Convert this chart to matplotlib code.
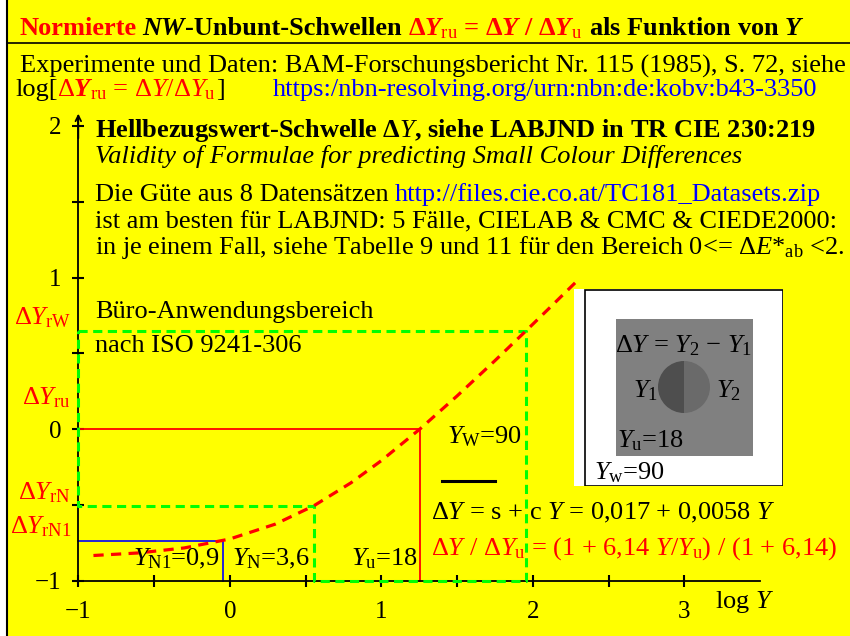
import matplotlib
matplotlib.use('Agg')
import matplotlib.pyplot as plt
from matplotlib.patches import Rectangle, Wedge
from matplotlib.lines import Line2D

W, H = 850, 636
SERIF = 'Liberation Serif'
FS = 19

plt.rcParams['font.family'] = SERIF
plt.rcParams['mathtext.fontset'] = 'custom'
plt.rcParams['mathtext.rm'] = SERIF
plt.rcParams['mathtext.it'] = SERIF + ':italic'
plt.rcParams['mathtext.bf'] = SERIF + ':bold'
plt.rcParams['mathtext.bfit'] = SERIF + ':italic:bold'

# threshold curve: log Y  ->  log(dY / dYu)
log_y = [-0.9, -0.6, -0.3, 0.0, 0.3, 0.556, 0.8, 1.0, 1.255, 1.5, 1.75, 1.954, 2.1, 2.3]
log_dy = [-0.835, -0.818, -0.785, -0.726, -0.628, -0.506, -0.355, -0.209,
          0.0, 0.218, 0.451, 0.647, 0.789, 0.985]

# marked luminances N1, N, u, W (Y = 0.9, 3.6, 18, 90)
mark_logY = [-0.046, 0.556, 1.255, 1.954]
mark_logdY = [-0.737, -0.506, 0.0, 0.647]

xticks = [-1, 0, 1, 2, 3]
xtick_labels = ['\u22121', '0', '1', '2', '3']
yticks = [-1, 0, 1, 2]
ytick_labels = ['\u22121', '0', '1', '2']

# pixel layout of the plot area
X0, Y0, UNIT = 78.3, 429.0, 151.5

fig = plt.figure(figsize=(8.5, 6.36), dpi=100, facecolor='white')

# yellow sheet with left frame line and title rule
fig.add_artist(Rectangle((7 / W, 0), 1 - 7 / W, 1, transform=fig.transFigure,
                         facecolor='#ffff00', edgecolor='none', zorder=-5))
fig.add_artist(Line2D([7 / W, 7 / W], [0, 1], color='black', lw=1.5))
fig.add_artist(Line2D([7 / W, 1], [1 - 43 / H, 1 - 43 / H], color='black', lw=1.2))

ax = fig.add_axes([0, 0, 1, 1])
ax.set_facecolor('none')
ax.set_xlim(-1 - X0 / UNIT, -1 + (W - X0) / UNIT)
ax.set_ylim(-(H - Y0) / UNIT, Y0 / UNIT)

lN1, lN, lu, lW = mark_logY
dN1, dN, du, dW = mark_logdY

# office range box (green dashed)
ax.plot([-1, lW, lW, lN, lN, -1, -1], [dW, dW, -1, -1, dN, dN, dW],
        color='#00ff00', lw=2.2, dashes=(3, 1.8), zorder=3)
# red and blue reference lines
ax.plot([-1, lu, lu], [du, du, -1], color='red', lw=1.3, zorder=2)
ax.plot([-1, lN1, lN1], [dN1, dN1, -1], color='blue', lw=1.2, zorder=2)
# threshold curve
ax.plot(log_y, log_dy, color='red', lw=2.3, dashes=(3.2, 2.3), zorder=4)

# axes through (-1, -1)
for side in ['top', 'right']:
    ax.spines[side].set_visible(False)
ax.spines['left'].set_position(('data', -1))
ax.spines['bottom'].set_position(('data', -1))
ax.spines['left'].set_bounds(-1, 2.05)
ax.spines['bottom'].set_bounds(-1, 3.5)
for side in ['left', 'bottom']:
    ax.spines[side].set_linewidth(1.3)
ax.annotate('', xy=(-1, 2.1), xytext=(-1, 1.9),
            arrowprops=dict(arrowstyle='->', lw=1.3, color='black'))

ax.set_xticks(xticks)
ax.set_xticklabels(xtick_labels)
ax.set_yticks(yticks)
ax.set_yticklabels(ytick_labels)
ax.set_xticks([-0.5, 0.5, 1.5, 2.5], minor=True)
ax.set_yticks([-0.5, 0.5, 1.5], minor=True)
ax.tick_params(which='both', direction='inout', length=8, width=1.5)
ax.tick_params(axis='x', labelsize=18, pad=11)
ax.tick_params(axis='y', labelsize=18, pad=8)


def put(x, y, s, color='black', size=FS, **kw):
    return fig.text(x / W, 1 - y / H, s, color=color, fontsize=size,
                    va='baseline', **kw)


def put_parts(x, y, parts, size=FS):
    rend = fig.canvas.get_renderer()
    for s, color, weight, style in parts:
        if s.startswith(' '):
            x += 0.25 * size * 100 / 72
            s = s.lstrip()
        t = put(x, y, s, color, size, fontweight=weight, fontstyle=style)
        x = t.get_window_extent(rend).x1


# title
put_parts(19, 35, [
    ('Normierte', 'red', 'bold', 'normal'),
    (' NW', 'black', 'bold', 'italic'),
    ('-Unbunt-Schwellen', 'black', 'bold', 'normal'),
    (r' Δ$\mathbfit{Y}_{\mathrm{ru}}$ = Δ$\mathbfit{Y}$ / Δ$\mathbfit{Y}_{\mathrm{u}}$',
     'red', 'bold', 'normal'),
    (r' als Funktion von $\mathbfit{Y}$', 'black', 'bold', 'normal'),
])

put(20, 73, 'Experimente und Daten: BAM-Forschungsbericht Nr. 115 (1985), S. 72, siehe')
put_parts(15, 96, [
    ('log[', 'black', 'normal', 'normal'),
    (r'Δ$\mathbfit{Y}_{\mathrm{ru}}$ = Δ$Y$/Δ$Y_{\mathrm{u}}$', 'red', 'normal', 'normal'),
    (']', 'black', 'normal', 'normal'),
])
put(273, 96, 'https:/nbn-resolving.org/urn:nbn:de:kobv:b43-3350', color='blue')

put(95, 137, r'Hellbezugswert-Schwelle Δ$\mathit{Y}$, siehe LABJND in TR CIE 230:219',
    fontweight='bold')
put(95, 163, 'Validity of Formulae for predicting Small Colour Differences', fontstyle='italic')
put_parts(95, 201, [
    ('Die Güte aus 8 Datensätzen', 'black', 'normal', 'normal'),
    (' http://files.cie.co.at/TC181_Datasets.zip', 'blue', 'normal', 'normal'),
])
put(95, 228, 'ist am besten für LABJND: 5 Fälle, CIELAB & CMC & CIEDE2000:')
put(95, 254, r'in je einem Fall, siehe Tabelle 9 und 11 für den Bereich 0<= Δ$E{*}_{\mathrm{ab}}$ <2.')

put(95, 318, 'Büro-Anwendungsbereich')
put(95, 352, 'nach ISO 9241-306')

# red labels left of the axis
put(71, 324, r'Δ$Y_{\mathrm{rW}}$', color='red', ha='right')
put(71, 404, r'Δ$Y_{\mathrm{ru}}$', color='red', ha='right')
put(71, 499, r'Δ$Y_{\mathrm{rN}}$', color='red', ha='right')
put(71, 533, r'Δ$Y_{\mathrm{rN1}}$', color='red', ha='right')

# marks along the bottom
put(220, 565, r'$Y_{\mathrm{N1}}$=0,9', ha='right')
put(232, 565, r'$Y_{\mathrm{N}}$=3,6')
put(418, 565, r'$Y_{\mathrm{u}}$=18', ha='right')
put(447, 443, r'$Y_{\mathrm{W}}$=90')
fig.add_artist(Line2D([442 / W, 495 / W], [1 - 481 / H, 1 - 481 / H], color='black', lw=2.2))
put(431, 519, r'Δ$Y$ = s + c $Y$ = 0,017 + 0,0058 $Y$')
put(431, 555, r'Δ$Y$ / Δ$Y_{\mathrm{u}}$ = (1 + 6,14 $Y$/$Y_{\mathrm{u}}$) / (1 + 6,14)', color='red')
put(715, 608, r'log $Y$')

# inset: grey test field on white surround
ins = fig.add_axes([574 / W, 1 - 486 / H, (783 - 574) / W, (486 - 289) / H])
ins.set_xlim(574, 783)
ins.set_ylim(486, 289)
ins.axis('off')
ins.add_patch(Rectangle((574, 289), 209, 197, facecolor='white', edgecolor='none'))
ins.add_patch(Rectangle((585, 289.5), 197.5, 196, facecolor='none', edgecolor='black', lw=1.2))
ins.add_patch(Rectangle((616, 319), 137, 137, facecolor='#808080', edgecolor='none'))
ins.add_patch(Wedge((684, 387), 26, 90, 270, facecolor='#4e4e4e', edgecolor='none'))
ins.add_patch(Wedge((684, 387), 26, -90, 90, facecolor='#6a6a6a', edgecolor='none'))
put(684, 352, r'Δ$Y$ = $Y_2$ − $Y_1$', ha='center')
put(633, 397, r'$Y_1$')
put(716, 397, r'$Y_2$')
put(617, 447, r'$Y_{\mathrm{u}}$=18')
put(594, 479, r'$Y_{\mathrm{w}}$=90')

fig.savefig('out.png', dpi=100, facecolor='white')
